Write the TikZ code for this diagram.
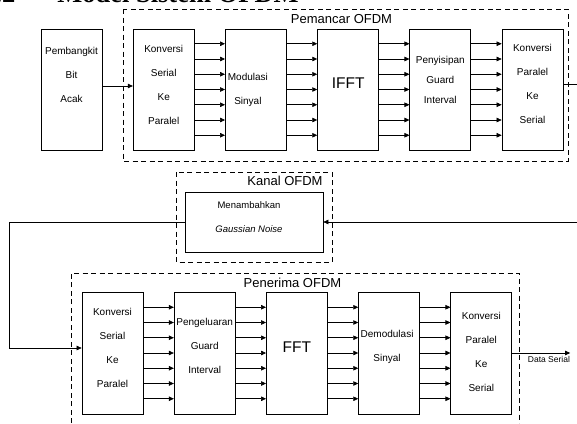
\documentclass[tikz,border=0pt]{standalone}
\usepackage{fontspec}
\setmainfont{Liberation Sans}
\newfontfamily\judulfont{Liberation Serif}
\usetikzlibrary{arrows.meta,positioning,calc}

\begin{document}
\begin{tikzpicture}[x=1pt, y=-1pt, node distance=30.5pt, >={Triangle[length=5pt,width=4.5pt]}]
\tikzstyle{blok} = [rectangle, draw, line width=0.7pt, minimum width=61pt, minimum height=121pt, inner sep=0pt]
\tikzstyle{isi} = [align=center, font=\fontsize{10}{24}\selectfont, inner sep=0pt]
\tikzstyle{grup} = [draw, line width=0.7pt, dash pattern=on 5pt off 3.5pt]
\tikzstyle{judul} = [font=\fontsize{13}{15}\selectfont]
\tikzstyle{a} = [->, line width=0.6pt]
\useasboundingbox (0,0) rectangle (577,423);

% judul bab (terpotong di atas)
\node[anchor=base west, inner sep=0pt, font=\judulfont\bfseries\fontsize{26.5}{30}\selectfont] (judul) at (-18,2) {3.2\hspace{42pt}Model Sistem OFDM};

% pemancar
\node[blok] (bit) at (71.5,89.5) {};
\node[blok, right=of bit] (sp1) {};
\node[blok, right=of sp1] (mod) {};
\node[blok, right=of mod] (ifft) {};
\node[blok, right=of ifft] (gi1) {};
\node[blok, right=of gi1] (ps1) {};
\node[isi] at ([yshift=14.5pt]bit.center) {Pembangkit\\Bit\\Acak};
\node[isi] at ([yshift=5pt]sp1.center) {Konversi\\Serial\\Ke\\Paralel};
\node[isi] at ([xshift=-8pt]mod.center) {Modulasi\\Sinyal};
\node[isi, font=\fontsize{15.5}{18}\selectfont] at ([yshift=6.5pt]ifft.center) {IFFT};
\node[isi, font=\fontsize{10}{20}\selectfont] at ([yshift=10pt]gi1.center) {Penyisipan\\Guard\\Interval};
\node[isi] at ([yshift=6pt]ps1.center) {Konversi\\Paralel\\Ke\\Serial};

% kanal
\node[rectangle, draw, line width=0.7pt, minimum width=138pt, minimum height=60pt, inner sep=0pt] (kanal) at (254,222) {};
\node[isi, font=\fontsize{9.5}{24}\selectfont] at ([xshift=-5pt,yshift=5pt]kanal.center) {Menambahkan\\\textit{Gaussian Noise}};

% penerima
\node[blok, minimum height=122pt] (sp2) at (112.5,353) {};
\node[blok, minimum height=122pt, right=of sp2] (gi2) {};
\node[blok, minimum height=122pt, right=of gi2] (fft) {};
\node[blok, minimum height=122pt, right=of fft] (dem) {};
\node[blok, minimum height=122pt, right=of dem] (ps2) {};
\node[isi] at ([yshift=5pt]sp2.center) {Konversi\\Serial\\Ke\\Paralel};
\node[isi] at ([yshift=7pt]gi2.center) {Pengeluaran\\Guard\\Interval};
\node[isi, font=\fontsize{15.5}{18}\selectfont] at ([yshift=6pt]fft.center) {FFT};
\node[isi] at ([xshift=-2pt,yshift=6pt]dem.center) {Demodulasi\\Sinyal};
\node[isi] at ([yshift=1pt]ps2.center) {Konversi\\Paralel\\Ke\\Serial};

% jalur paralel
\foreach \p/\q in {sp1/mod, mod/ifft, ifft/gi1, gi1/ps1, sp2/gi2, gi2/fft, fft/dem, dem/ps2}
  \foreach \i in {-3,...,3}
    \draw[a] ([yshift=\i*15.25pt]\p.east) -- ([yshift=\i*15.25pt]\q.west);

% jalur serial
\draw[a] ([yshift=3.5pt]bit.east) -- ([yshift=3.5pt]sp1.west);
\draw[a] ([yshift=5.5pt]ps1.east) -| ([xshift=16pt]ps1.east |- kanal.east) -- (kanal.east);
\draw[a] (kanal.west) -| ([xshift=-72pt,yshift=5pt]sp2.west) -- ([yshift=5pt]sp2.west);
\coordinate (keluar) at ([xshift=58pt]ps2.east);
\draw[a] (ps2.east) -- (keluar);
\node[anchor=north east, font=\fontsize{8.5}{10}\selectfont, inner sep=0pt] at ([yshift=-3pt]keluar) {Data Serial};

% kotak kelompok
\draw[grup] (123,9) rectangle (568,161);
\draw[grup] (176,172) rectangle (332,262);
\draw[grup] (71,423) -- (71,273) -- (519,273) -- (519,423);
\node[judul] at (341.5,19) {Pemancar OFDM};
\node[judul] at (285,181) {Kanal OFDM};
\node[judul] at (292.5,282.5) {Penerima OFDM};
\end{tikzpicture}
\end{document}
